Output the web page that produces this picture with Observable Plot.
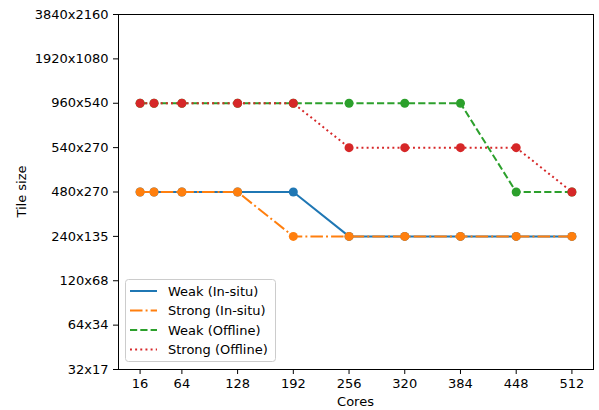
<!DOCTYPE html>
<html><head><meta charset="utf-8">
<script src="https://cdn.jsdelivr.net/npm/d3@7"></script>
<script src="https://cdn.jsdelivr.net/npm/@observablehq/plot@0.6"></script>
<style>body{margin:0;background:#fff;} #chart{position:relative;width:599px;height:410px;}</style>
</head><body><div id="chart"></div>
<script>
const cores = [16, 32, 64, 128, 192, 256, 320, 384, 448, 512];
const tileLabels = ["32x17", "64x34", "120x68", "240x135", "480x270", "540x270", "960x540", "1920x1080", "3840x2160"];
const xTicks = [16, 64, 128, 192, 256, 320, 384, 448, 512];
const seriesNames = ["Weak (In-situ)", "Strong (In-situ)", "Weak (Offline)", "Strong (Offline)"];
const weakInsitu = ["480x270", "480x270", "480x270", "480x270", "480x270", "240x135", "240x135", "240x135", "240x135", "240x135"];
const strongInsitu = ["480x270", "480x270", "480x270", "480x270", "240x135", "240x135", "240x135", "240x135", "240x135", "240x135"];
const weakOffline = ["960x540", "960x540", "960x540", "960x540", "960x540", "960x540", "960x540", "960x540", "480x270", "480x270"];
const strongOffline = ["960x540", "960x540", "960x540", "960x540", "960x540", "540x270", "540x270", "540x270", "540x270", "480x270"];

const seriesValues = [weakInsitu, strongInsitu, weakOffline, strongOffline];
const colors = ["#1f77b4", "#ff7f0e", "#2ca02c", "#d62728"];
const dashes = [null, "12.5,3.1,1.95,3.1", "7.2,3.1", "1.95,3.2"];

const marks = [];
seriesValues.forEach((vals, i) => {
  const data = cores.map((c, j) => ({cores: c, tile: vals[j]}));
  marks.push(Plot.line(data, {x: "cores", y: "tile", stroke: colors[i], strokeWidth: 2, strokeDasharray: dashes[i] || undefined, strokeLinecap: "butt", strokeLinejoin: "round"}));
  marks.push(Plot.dot(data, {x: "cores", y: "tile", fill: colors[i], r: 4.5}));
});

const chart = Plot.plot({
  width: 599, height: 410,
  marginLeft: 118, marginRight: 6, marginTop: 14, marginBottom: 41,
  style: {fontFamily: "DejaVu Sans", fontSize: "13px", color: "black", background: "white", overflow: "visible"},
  x: {domain: [-8.8, 536.8]},
  y: {type: "point", domain: tileLabels.slice().reverse(), padding: 0, round: false},
  marks: [
    Plot.axisX({ticks: xTicks, tickSize: 5, tickPadding: 4, label: null, fontSize: 13}),
    Plot.axisY({tickSize: 5, tickPadding: 5, label: null, fontSize: 13}),
    ...marks,
    Plot.frame({stroke: "black", strokeWidth: 1})
  ]
});
document.getElementById("chart").appendChild(chart);

const svg = d3.select(chart);
const font = "DejaVu Sans";
svg.append("text").attr("x", 355.5).attr("y", 401).attr("text-anchor", "middle").attr("dominant-baseline", "central")
  .attr("font-family", font).attr("font-size", 13).attr("fill", "black").text("Cores");
svg.append("text").attr("transform", "translate(21,191.5) rotate(-90)").attr("text-anchor", "middle").attr("dominant-baseline", "central")
  .attr("font-family", font).attr("font-size", 13).attr("fill", "black").text("Tile size");

const lg = svg.append("g");
lg.append("rect").attr("x", 125.5).attr("y", 279.5).attr("width", 150).attr("height", 82).attr("rx", 3)
  .attr("fill", "white").attr("fill-opacity", 0.8).attr("stroke", "#cccccc").attr("stroke-width", 1);
const rowY = [291, 310.5, 330, 349.5];
seriesNames.forEach((name, i) => {
  lg.append("line").attr("x1", 130).attr("x2", 157).attr("y1", rowY[i]).attr("y2", rowY[i])
    .attr("stroke", colors[i]).attr("stroke-width", 2).attr("stroke-dasharray", dashes[i]).attr("stroke-linecap", "butt");
  lg.append("text").attr("x", 168).attr("y", rowY[i]).attr("text-anchor", "start").attr("dominant-baseline", "central")
    .attr("font-family", font).attr("font-size", 13).attr("fill", "black").text(name);
});
</script>
</body></html>
